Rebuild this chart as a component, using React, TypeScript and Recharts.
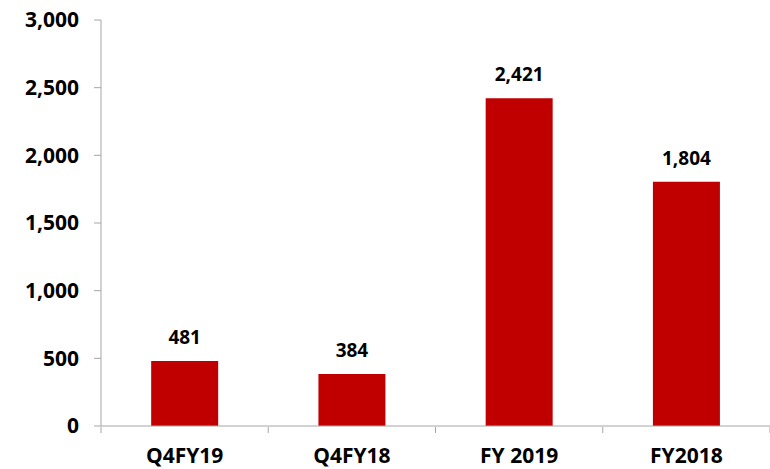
import { BarChart, Bar, XAxis, YAxis, LabelList } from "recharts";

const periods = ["Q4FY19", "Q4FY18", "FY 2019", "FY2018"];
const amounts = [481, 384, 2421, 1804];
const yTicks = [0, 500, 1000, 1500, 2000, 2500, 3000];

const data = periods.map((period, i) => ({ period, amount: amounts[i] }));

const FONT = "'Open Sans', sans-serif";
const AXIS = "#A6A6A6";
const BAND = (770 - 101) / periods.length;

const fmt = (v: number) => v.toLocaleString("en-US");

const PeriodTick = (props: any) => {
  const { x, y, payload, index } = props;
  const left = x - BAND / 2;
  return (
    <g>
      <line x1={left} y1={y - 7} x2={left} y2={y - 1} stroke={AXIS} />
      {index === periods.length - 1 && (
        <line x1={left + BAND} y1={y - 7} x2={left + BAND} y2={y - 1} stroke={AXIS} />
      )}
      <text
        x={x}
        y={y + 29}
        textAnchor="middle"
        fontFamily={FONT}
        fontWeight={700}
        fontSize={21}
        fill="#000"
      >
        {payload.value}
      </text>
    </g>
  );
};

const App = () => (
  <div style={{ position: "absolute", left: 0, top: 0 }}>
    <BarChart
      width={770}
      height={469}
      data={data}
      margin={{ top: 20, right: 0, bottom: 0, left: 0 }}
      barCategoryGap="30%"
    >
      <XAxis
        dataKey="period"
        height={43}
        stroke={AXIS}
        tickLine={false}
        tick={<PeriodTick />}
        interval={0}
      />
      <YAxis
        width={101}
        domain={[0, 3000]}
        ticks={yTicks}
        tickFormatter={fmt}
        stroke={AXIS}
        tickSize={7}
        tickMargin={15}
        tick={{ fill: "#000", fontFamily: FONT, fontWeight: 700, fontSize: 21 }}
        interval={0}
      />
      <Bar dataKey="amount" fill="#C00000" isAnimationActive={false}>
        <LabelList
          dataKey="amount"
          position="top"
          offset={17}
          formatter={(v: any) => fmt(Number(v))}
          style={{ fill: "#000", fontFamily: FONT, fontWeight: 700, fontSize: 19 }}
        />
      </Bar>
    </BarChart>
  </div>
);

export default App;
